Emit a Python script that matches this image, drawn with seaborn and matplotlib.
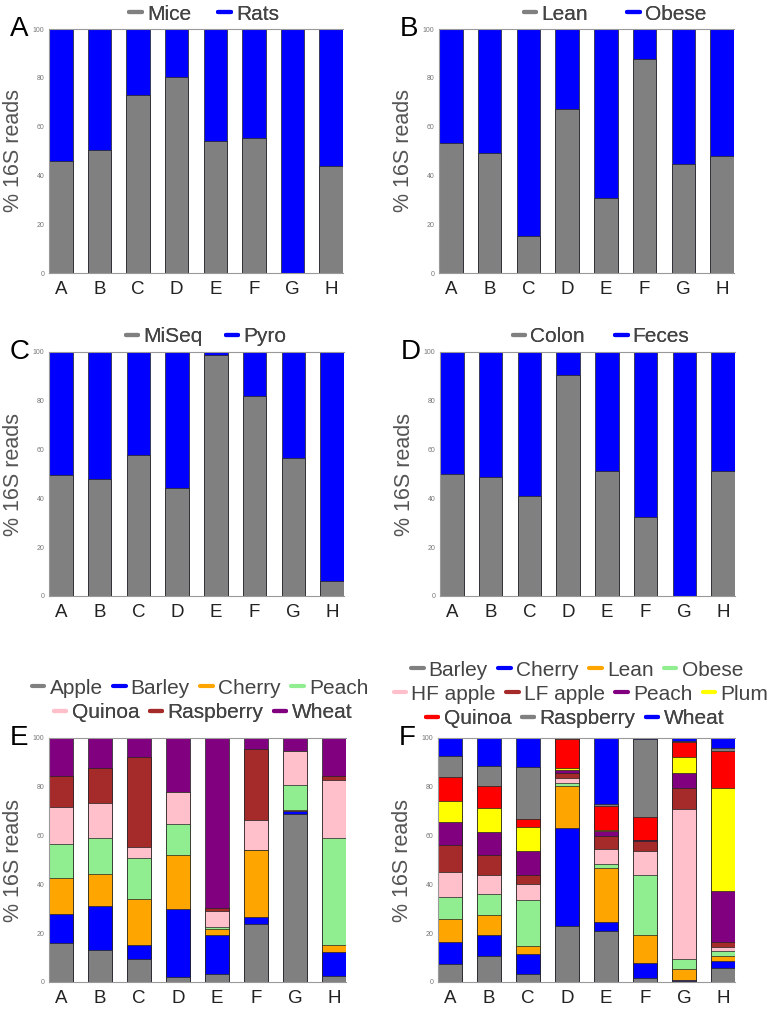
import pandas as pd
import matplotlib
matplotlib.use("Agg")
import matplotlib.pyplot as plt
from matplotlib.lines import Line2D
import seaborn as sns

groups = ["A", "B", "C", "D", "E", "F", "G", "H"]

# Panel A-D: two-way splits (bottom series first)
mice = [45.8, 50.4, 72.8, 80.3, 54.1, 55.2, 0.0, 43.7]
rats = [100 - v for v in mice]
lean = [53.3, 49.2, 15.3, 67.1, 30.6, 87.7, 44.7, 47.8]
obese = [100 - v for v in lean]
miseq = [49.5, 47.9, 57.8, 44.4, 98.6, 82.1, 56.7, 6.3]
pyro = [100 - v for v in miseq]
colon = [50.2, 48.7, 41.0, 90.4, 51.3, 32.3, 0.0, 51.3]
feces = [100 - v for v in colon]

# Panel E
e_apple = [16.0, 13.0, 9.3, 2.2, 3.3, 23.6, 68.7, 2.5]
e_barley = [12.0, 18.1, 6.0, 27.9, 15.8, 2.9, 1.5, 9.7]
e_cherry = [14.5, 13.2, 18.6, 21.9, 2.5, 27.5, 0.2, 3.1]
e_peach = [14.1, 14.6, 16.8, 12.9, 0.9, 0.1, 10.3, 43.9]
e_quinoa = [15.1, 14.6, 4.5, 13.0, 6.6, 12.4, 13.8, 23.5]
e_raspberry = [12.9, 14.3, 37.0, 0.1, 1.4, 29.1, 0.2, 1.7]
e_wheat = [15.4, 12.2, 7.8, 22.0, 69.5, 4.4, 5.3, 15.6]

# Panel F
f_barley = [7.2, 10.5, 3.1, 23.0, 20.8, 1.8, 0.5, 5.6]
f_cherry = [9.1, 8.9, 8.5, 40.0, 3.7, 6.0, 0.3, 3.0]
f_lean = [9.7, 8.1, 3.2, 17.2, 22.2, 11.3, 4.5, 2.1]
f_obese = [8.8, 8.6, 18.9, 1.2, 1.8, 24.9, 4.1, 2.0]
f_hf_apple = [10.3, 7.8, 6.6, 2.2, 6.0, 9.8, 61.4, 1.8]
f_lf_apple = [11.0, 8.1, 3.7, 1.9, 5.3, 4.1, 8.8, 2.0]
f_peach = [9.6, 9.3, 9.6, 1.5, 2.1, 0.1, 5.9, 20.8]
f_plum = [8.3, 9.9, 9.9, 0.8, 0.4, 0.0, 6.6, 42.1]
f_quinoa = [10.0, 9.1, 3.2, 11.8, 9.8, 9.5, 6.4, 15.3]
f_raspberry = [8.8, 8.2, 21.6, 0.4, 1.0, 32.1, 0.3, 1.1]
f_wheat = [7.2, 11.5, 11.7, 0.0, 26.9, 0.4, 1.2, 4.2]

GRAY, BLUE, ORANGE, GREEN = "#808080", "#0000ff", "#ffa500", "#90ee90"
PINK, BROWN, PURPLE, YELLOW, RED = "#ffc0cb", "#a52a2a", "#800080", "#ffff00", "#ff0000"

# rect = (left px, top px, width px, height px); legend rows: (labels, px above axes, centre x px)
panels = [
	dict(letter="A", rect=(49, 29, 294, 244),
		series=[("Mice", mice, GRAY), ("Rats", rats, BLUE)],
		rows=[(["Mice", "Rats"], 15, 204)], colspace=1.3),
	dict(letter="B", rect=(439, 29, 295, 244),
		series=[("Lean", lean, GRAY), ("Obese", obese, BLUE)],
		rows=[(["Lean", "Obese"], 15, 615)], colspace=1.9),
	dict(letter="C", rect=(49, 352, 295, 244),
		series=[("MiSeq", miseq, GRAY), ("Pyro", pyro, BLUE)],
		rows=[(["MiSeq", "Pyro"], 15, 206)], colspace=1.1),
	dict(letter="D", rect=(440, 352, 295, 244),
		series=[("Colon", colon, GRAY), ("Feces", feces, BLUE)],
		rows=[(["Colon", "Feces"], 15, 601)], colspace=1.45),
	dict(letter="E", rect=(49, 738, 297, 244),
		series=[("Apple", e_apple, GRAY), ("Barley", e_barley, BLUE),
			("Cherry", e_cherry, ORANGE), ("Peach", e_peach, GREEN),
			("Quinoa", e_quinoa, PINK), ("Raspberry", e_raspberry, BROWN),
			("Wheat", e_wheat, PURPLE)],
		rows=[(["Apple", "Barley", "Cherry", "Peach"], 50, 200),
			(["Quinoa", "Raspberry", "Wheat"], 25, 203)],
		colspace=0.5),
	dict(letter="F", rect=(438, 738, 297, 244),
		series=[("Barley", f_barley, GRAY), ("Cherry", f_cherry, BLUE),
			("Lean", f_lean, ORANGE), ("Obese", f_obese, GREEN),
			("HF apple", f_hf_apple, PINK), ("LF apple", f_lf_apple, BROWN),
			("Peach", f_peach, PURPLE), ("Plum", f_plum, YELLOW),
			("Quinoa", f_quinoa, RED), ("Raspberry", f_raspberry, GRAY),
			("Wheat", f_wheat, BLUE)],
		rows=[(["Barley", "Cherry", "Lean", "Obese"], 68, 577),
			(["HF apple", "LF apple", "Peach", "Plum"], 44, 581),
			(["Quinoa", "Raspberry", "Wheat"], 19, 575)],
		colspace=0.5),
]

sns.set_style("white")
plt.rcParams["font.family"] = ["Liberation Sans", "DejaVu Sans"]

W, H = 770, 1015
fig = plt.figure(figsize=(W / 100, H / 100), dpi=100)

for p in panels:
	x0, y0, w, h = p["rect"]
	ax = fig.add_axes([x0 / W, 1 - (y0 + h) / H, w / W, h / H])

	# long table with cumulative tops
	rows = []
	cum = [0.0] * len(groups)
	for name, vals, color in p["series"]:
		cum = [c + v for c, v in zip(cum, vals)]
		for g, c in zip(groups, cum):
			rows.append({"group": g, "series": name, "top": c})
	df = pd.DataFrame(rows)

	# draw from the tallest cumulative down so each segment shows
	for name, vals, color in reversed(p["series"]):
		sub = df[df["series"] == name]
		sns.barplot(data=sub, x="group", y="top", order=groups, color=color,
			width=0.61, saturation=1, errorbar=None, edgecolor="#222222",
			linewidth=0.5, ax=ax)

	ax.set_xlim(-0.305, 7.305)
	ax.set_ylim(0, 100)
	ax.set_yticks([0, 20, 40, 60, 80, 100])
	ax.tick_params(axis="y", labelsize=5, colors="#777777", length=2.5, width=0.6, pad=1)
	ax.tick_params(axis="x", labelsize=13.5, colors="#222222", length=0, pad=6)
	ax.set_xlabel("")
	ax.set_ylabel("% 16S reads", fontsize=15.5, color="#555555")
	ax.yaxis.set_label_coords(-25 / w, 0.5)
	for side in ["top", "bottom", "left"]:
		ax.spines[side].set_color("#999999")
		ax.spines[side].set_linewidth(0.8)
	ax.spines["right"].set_visible(False)

	ax.text(-39 / w, 1.0, p["letter"], transform=ax.transAxes, fontsize=20,
		color="black", ha="left", va="center")

	colors = {name: color for name, vals, color in p["series"]}
	for labels, off, xc in p["rows"]:
		handles = [Line2D([0], [0], color=colors[l], lw=3) for l in labels]
		leg = ax.legend(handles, labels, loc="center",
			bbox_to_anchor=((xc - x0) / w, 1 + off / h),
			ncol=len(labels), frameon=False, fontsize=15, handlelength=0.6,
			handletextpad=0.25, columnspacing=p["colspace"], borderaxespad=0,
			borderpad=0, labelcolor="#444444")
		ax.add_artist(leg)

plt.savefig("out.png", dpi=100)
